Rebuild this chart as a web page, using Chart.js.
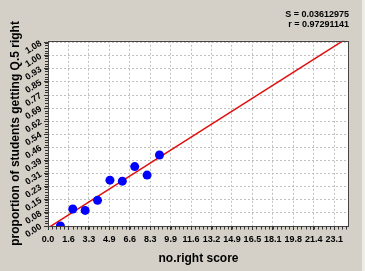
<!DOCTYPE html>
<html><head><meta charset="utf-8">
<script src="https://cdn.jsdelivr.net/npm/chart.js@4.4.1/dist/chart.umd.min.js"></script>
<style>
html,body{margin:0;padding:0;background:#d4d0c8;overflow:hidden}
#wrap{width:365px;height:271px;position:relative}
#edge{position:absolute;right:0;top:0;width:3px;height:271px;background:#ecebe6}
canvas{display:block}
</style>
</head><body>
<div id="wrap"><canvas id="c" width="365" height="271"></canvas><div id="edge"></div></div>
<script>
// ---- data ----
const scores = [1, 2, 3, 4, 5, 6, 7, 8, 9];
const proportions = [0.00, 0.10, 0.092, 0.151, 0.27, 0.264, 0.35, 0.30, 0.418];
const xTickLabels = ['0.0','1.6','3.3','4.9','6.6','8.3','9.9','11.6','13.2','14.9','16.5','18.1','19.8','21.4','23.1'];
const yTickLabels = ['0.00','0.08','0.15','0.23','0.31','0.39','0.46','0.54','0.62','0.69','0.77','0.85','0.93','1.00','1.08'];
const xTickStep = 1.65;
const yTickStep = 1.08 / 14;
const xMax = 24.3;
const yMax = 1.091;
const fitSlope = 0.0463;
const fitIntercept = -0.0115;
const statLines = ['S = 0.03612975', 'r = 0.97291141'];
const xTitle = 'no.right score';
const yTitle = 'proportion of students getting Q.5 right';

const FONT = "'Liberation Sans', Arial, sans-serif";

const points = scores.map((x, i) => ({x: x, y: proportions[i]}));
const fitLine = [0, xMax].map(x => ({x: x, y: fitIntercept + fitSlope * x}));

const plotFrame = {
  id: 'plotFrame',
  beforeDraw(chart) {
    const a = chart.chartArea, ctx = chart.ctx;
    ctx.save();
    ctx.fillStyle = '#ffffff';
    ctx.fillRect(a.left, a.top, a.right - a.left, a.bottom - a.top);
    ctx.restore();
  },
  afterDraw(chart) {
    const a = chart.chartArea, ctx = chart.ctx;
    const xs = chart.scales.x, ys = chart.scales.y;
    ctx.save();
    ctx.strokeStyle = '#444444';
    ctx.lineWidth = 1;
    ctx.strokeRect(Math.round(a.left) + 0.5, Math.round(a.top) + 0.5,
                   Math.round(a.right - a.left) - 1, Math.round(a.bottom - a.top));
    // minor ticks
    ctx.strokeStyle = '#333333';
    ctx.beginPath();
    for (let k = 0; ; k++) {
      const v = k * xTickStep / 5;
      if (v > xMax) break;
      const px = Math.round(xs.getPixelForValue(v)) + 0.5;
      ctx.moveTo(px, Math.round(a.bottom) + 0.5);
      ctx.lineTo(px, Math.round(a.bottom) + 3.5);
    }
    for (let k = 0; ; k++) {
      const v = k * yTickStep / 5;
      if (v > yMax) break;
      const py = Math.round(ys.getPixelForValue(v)) + 0.5;
      ctx.moveTo(Math.round(a.left) - 3, py);
      ctx.lineTo(Math.round(a.left), py);
    }
    ctx.stroke();
    ctx.restore();
  }
};

new Chart(document.getElementById('c'), {
  type: 'scatter',
  data: {
    datasets: [
      {
        type: 'scatter',
        data: points,
        backgroundColor: '#0000ff',
        borderColor: '#0000ff',
        borderWidth: 0,
        pointRadius: 4.5,
        order: 1
      },
      {
        type: 'line',
        data: fitLine,
        borderColor: '#e01010',
        borderWidth: 1.5,
        pointRadius: 0,
        fill: false,
        clip: 0,
        order: 2
      }
    ]
  },
  plugins: [plotFrame],
  options: {
    responsive: false,
    animation: false,
    devicePixelRatio: 1,
    layout: {padding: {left: 0, right: 16, top: 0, bottom: 0}},
    plugins: {
      legend: {display: false},
      tooltip: {enabled: false},
      title: {
        display: true,
        text: statLines,
        align: 'end',
        color: '#000',
        font: {family: FONT, size: 9, weight: 'bold', lineHeight: 1.1},
        padding: {top: 10, bottom: 11}
      }
    },
    scales: {
      x: {
        type: 'linear',
        min: 0,
        max: xMax,
        afterBuildTicks: s => { s.ticks = xTickLabels.map((_, i) => ({value: i * xTickStep})); },
        afterFit: s => { s.height = 45; },
        ticks: {
          callback: (v, i) => xTickLabels[i],
          autoSkip: false,
          maxRotation: 0,
          minRotation: 0,
          color: '#000',
          padding: 4,
          font: {family: FONT, size: 9, weight: 'bold'}
        },
        grid: {
          color: '#c0c0c0',
          borderDash: [2, 2],
          tickColor: '#333',
          tickLength: 4,
          tickBorderDash: []
        },
        border: {display: false, dash: [2, 2]},
        title: {
          display: true,
          text: xTitle,
          color: '#000',
          font: {family: FONT, size: 12, weight: 'bold'},
          padding: {top: 5, bottom: 5}
        }
      },
      y: {
        type: 'linear',
        min: 0,
        max: yMax,
        afterBuildTicks: s => { s.ticks = yTickLabels.map((_, i) => ({value: i * yTickStep})); },
        afterFit: s => { s.width = 48; },
        ticks: {
          callback: (v, i) => yTickLabels[i],
          autoSkip: false,
          minRotation: 32,
          maxRotation: 32,
          color: '#000',
          padding: 3,
          font: {family: FONT, size: 9, weight: 'bold'}
        },
        grid: {
          color: '#c0c0c0',
          borderDash: [2, 2],
          tickColor: '#333',
          tickLength: 4,
          tickBorderDash: []
        },
        border: {display: false, dash: [2, 2]},
        title: {
          display: true,
          text: yTitle,
          color: '#000',
          font: {family: FONT, size: 12, weight: 'bold'},
          padding: {top: 8, bottom: 2}
        }
      }
    }
  }
});
</script>
</body></html>
